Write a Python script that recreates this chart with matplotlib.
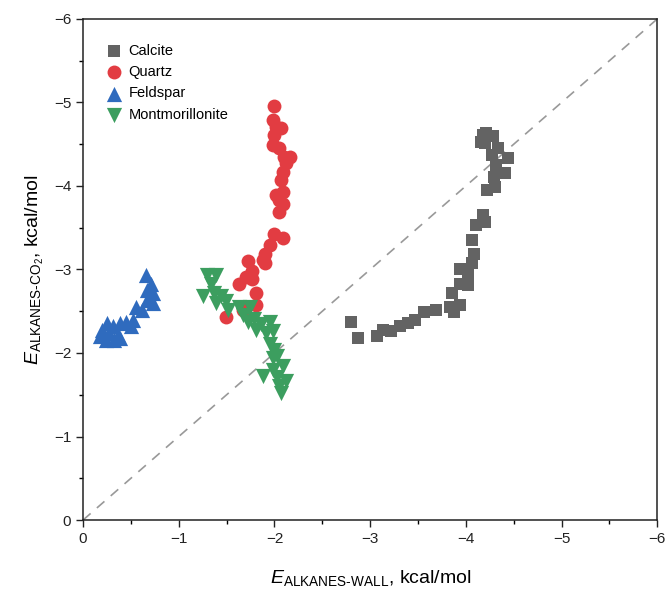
import matplotlib
matplotlib.use("Agg")
import matplotlib.pyplot as plt
from matplotlib.ticker import MultipleLocator

plt.rcParams['font.family'] = ['Liberation Sans', 'DejaVu Sans']
plt.rcParams['mathtext.fontset'] = 'custom'
plt.rcParams['mathtext.rm'] = 'Liberation Sans'
plt.rcParams['mathtext.it'] = 'Liberation Sans:italic'

# values (kcal/mol)
calcite_x = [-2.80, -2.87, -3.07, -3.13, -3.22, -3.31, -3.40, -3.47, -3.56, -3.69, -3.83, -3.88, -3.94,
             -3.85, -3.94, -4.02, -3.94, -4.02, -4.06, -4.09, -4.06, -4.11, -4.20, -4.18, -4.22, -4.30,
             -4.29, -4.41, -4.32, -4.44, -4.27, -4.34, -4.20, -4.16, -4.18, -4.21, -4.28]
calcite_y = [-2.37, -2.18, -2.20, -2.28, -2.26, -2.32, -2.36, -2.39, -2.49, -2.51, -2.55, -2.49, -2.58,
             -2.72, -2.83, -2.81, -3.00, -2.95, -3.08, -3.19, -3.35, -3.53, -3.57, -3.65, -3.95, -3.99,
             -4.11, -4.16, -4.25, -4.33, -4.37, -4.45, -4.51, -4.53, -4.61, -4.63, -4.60]

quartz_x = [-1.99, -1.98, -2.02, -2.07, -2.00, -1.98, -2.05, -2.10, -2.16, -2.12, -2.09, -2.07, -2.09,
            -2.02, -2.05, -2.09, -2.05, -2.00, -2.09, -1.95, -1.90, -1.72, -1.88, -1.90, -1.77, -1.70,
            -1.63, -1.76, -1.81, -1.81, -1.49, -1.67]
quartz_y = [-4.96, -4.79, -4.71, -4.69, -4.61, -4.49, -4.45, -4.35, -4.35, -4.27, -4.17, -4.07, -3.93,
            -3.89, -3.83, -3.79, -3.69, -3.42, -3.38, -3.29, -3.19, -3.10, -3.11, -3.08, -2.98, -2.91,
            -2.83, -2.89, -2.72, -2.58, -2.43, -2.51]

feldspar_x = [-0.66, -0.71, -0.67, -0.73, -0.67, -0.73, -0.55, -0.62, -0.52, -0.45, -0.39, -0.50,
              -0.25, -0.31, -0.20, -0.27, -0.36, -0.18, -0.24, -0.32, -0.39]
feldspar_y = [-2.93, -2.83, -2.75, -2.72, -2.64, -2.60, -2.55, -2.51, -2.39, -2.37, -2.36, -2.32,
              -2.36, -2.32, -2.28, -2.24, -2.22, -2.20, -2.15, -2.15, -2.18]

mont_x = [-1.30, -1.39, -1.34, -1.25, -1.37, -1.44, -1.49, -1.39, -1.51, -1.63, -1.74, -1.67, -1.72,
          -1.79, -1.81, -1.86, -1.95, -1.91, -1.98, -1.95, -2.00, -1.98, -2.03, -2.09, -1.98, -1.88,
          -2.03, -2.12, -2.05, -2.07]
mont_y = [-2.93, -2.93, -2.83, -2.68, -2.72, -2.68, -2.62, -2.60, -2.51, -2.55, -2.55, -2.45, -2.37,
          -2.41, -2.28, -2.35, -2.37, -2.24, -2.26, -2.11, -2.03, -1.94, -1.96, -1.84, -1.80, -1.73,
          -1.71, -1.67, -1.60, -1.52]

fig = plt.figure(figsize=(6.7, 5.92), dpi=100)
ax = fig.add_axes([0.124, 0.1216, 0.857, 0.8464])

ax.plot([0, -6], [0, -6], color='#999999', lw=1.2, dashes=(6, 5), zorder=1)

ax.scatter(calcite_x, calcite_y, marker='s', s=75, color='#636363', lw=0, label='Calcite', zorder=3)
ax.scatter(quartz_x, quartz_y, marker='o', s=100, color='#e23c42', lw=0, label='Quartz', zorder=2)
ax.scatter(feldspar_x, feldspar_y, marker='^', s=120, color='#2f6bbe', lw=0, label='Feldspar', zorder=3)
ax.scatter(mont_x, mont_y, marker='v', s=120, color='#3c9e5f', lw=0, label='Montmorillonite', zorder=3)

ax.set_xlim(0, -6)
ax.set_ylim(0, -6)
ax.xaxis.set_major_locator(MultipleLocator(1))
ax.yaxis.set_major_locator(MultipleLocator(1))
ax.xaxis.set_minor_locator(MultipleLocator(0.5))
ax.yaxis.set_minor_locator(MultipleLocator(0.5))
ax.tick_params(which='major', direction='out', length=5, width=1, labelsize=11, colors='#222222')
ax.tick_params(which='minor', direction='out', length=3, width=1)
for sp in ax.spines.values():
    sp.set_linewidth(1.1)
    sp.set_color('#222222')

ax.set_xlabel(r'$\mathit{E}_{\mathrm{ALKANES\text{-}WALL}}$, kcal/mol', fontsize=14, labelpad=16)
ax.set_ylabel(r'$\mathit{E}_{\mathrm{ALKANES\text{-}CO_2}}$, kcal/mol', fontsize=14, labelpad=6)

ax.legend(loc='upper left', frameon=False, fontsize=10.5, handlelength=1.0, handletextpad=0.5,
          labelspacing=0.5, borderaxespad=0, scatterpoints=1, bbox_to_anchor=(0.031, 0.962))

fig.savefig('out.png', dpi=100)
